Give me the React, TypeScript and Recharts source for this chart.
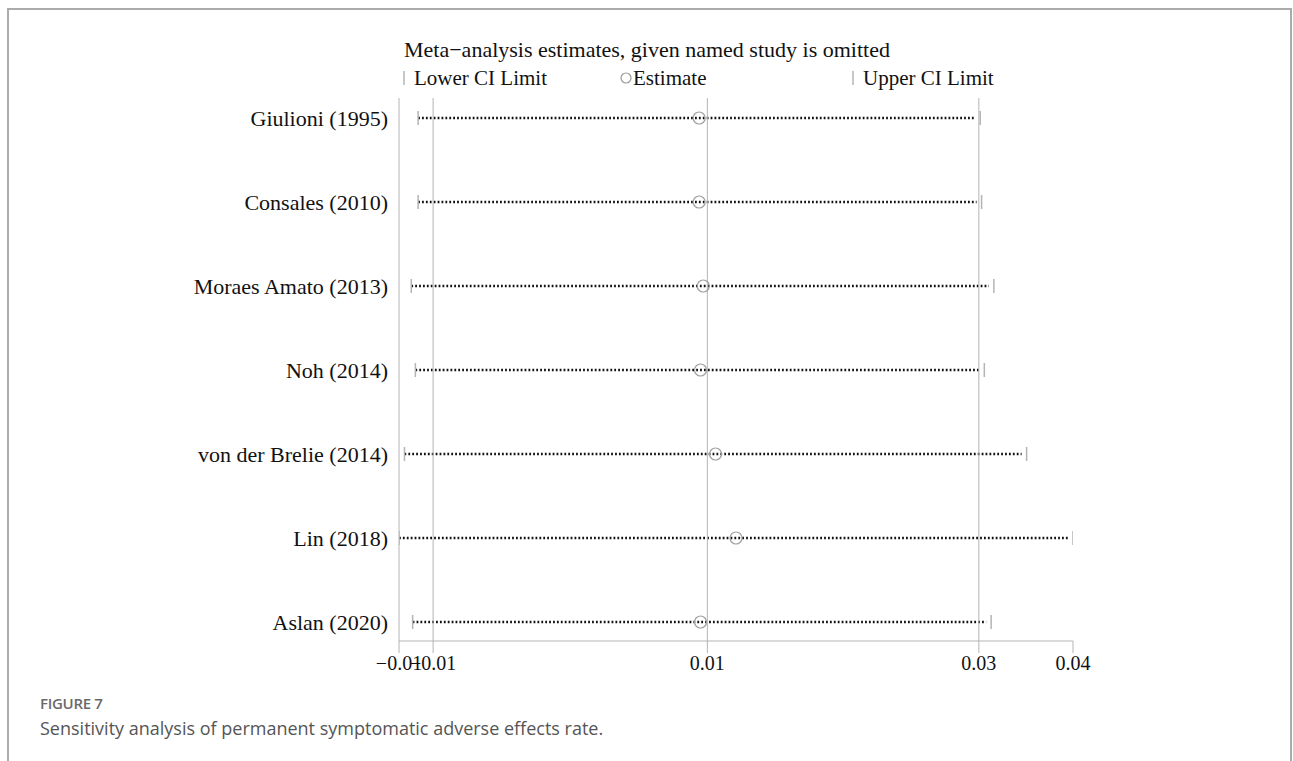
import { ComposedChart, Bar, Line, XAxis, YAxis, ReferenceLine } from 'recharts';

const studies = [
  'Giulioni (1995)',
  'Consales (2010)',
  'Moraes Amato (2013)',
  'Noh (2014)',
  'von der Brelie (2014)',
  'Lin (2018)',
  'Aslan (2020)',
];
const lowerCI = [-0.0112, -0.0112, -0.0117, -0.0114, -0.0122, -0.0126, -0.0116];
const estimate = [0.0094, 0.0094, 0.0097, 0.0095, 0.0106, 0.0121, 0.0095];
const upperCI = [0.0300, 0.0301, 0.0310, 0.0303, 0.0334, 0.0368, 0.0308];

// axis ticks sit at min lower, pooled CI / estimate, max upper (labels rounded as in the figure)
const xTicks = [-0.0126, -0.0101, 0.01, 0.0299, 0.0368];
const xTickLabels = ['−0.01', '−0.01', '0.01', '0.03', '0.04'];
const gridAt = [-0.0101, 0.01, 0.0299];

const data = studies.map((name, i) => ({
  idx: i,
  name,
  ci: [lowerCI[i], upperCI[i]],
  est: estimate[i],
}));

const serif = '"Liberation Serif", "Times New Roman", serif';
const gray = '#b4b4b4';

const CiShape = (props: any) => {
  const { x, y, width, height } = props;
  const cy = y + height / 2;
  return (
    <g>
      <line x1={x} y1={cy} x2={x + width - 5} y2={cy} stroke="#111" strokeWidth={2.5} strokeDasharray="1.8 2.1" />
      <line x1={x} y1={cy - 7} x2={x} y2={cy + 7} stroke={gray} strokeWidth={1.5} />
      <line x1={x + width} y1={cy - 7} x2={x + width} y2={cy + 7} stroke={gray} strokeWidth={1.5} />
    </g>
  );
};

const EstDot = (props: any) => {
  const { cx, cy } = props;
  return <circle cx={cx} cy={cy} r={6} fill="none" stroke="#a0a0a0" strokeWidth={1.2} />;
};

const App = () => {
  return (
    <div style={{ position: 'absolute', left: 0, top: 0, width: 1293, height: 761, background: '#fff', overflow: 'hidden' }}>
      <div
        style={{
          position: 'absolute',
          left: 7,
          top: 8,
          width: 1281,
          height: 800,
          borderTop: '2px solid #ababab',
          borderLeft: '2px solid #ababab',
          borderRight: '2px solid #ababab',
        }}
      />
      <svg width={1293} height={100} style={{ position: 'absolute', left: 0, top: 0 }}>
        <text x={404} y={57} fontFamily={serif} fontSize={22} fill="#111">
          Meta−analysis estimates, given named study is omitted
        </text>
        <line x1={404} y1={71} x2={404} y2={85} stroke={gray} strokeWidth={1.5} />
        <text x={414} y={85} fontFamily={serif} fontSize={21} fill="#111">Lower CI Limit</text>
        <circle cx={626} cy={78} r={5} fill="none" stroke="#9a9a9a" strokeWidth={1.2} />
        <text x={633} y={85} fontFamily={serif} fontSize={21} fill="#111">Estimate</text>
        <line x1={853} y1={71} x2={853} y2={85} stroke={gray} strokeWidth={1.5} />
        <text x={863} y={85} fontFamily={serif} fontSize={21} fill="#111">Upper CI Limit</text>
      </svg>
      <div style={{ position: 'absolute', left: 0, top: 0 }}>
        <ComposedChart
          width={1293}
          height={700}
          data={data}
          layout="vertical"
          margin={{ top: 98, right: 220, left: 0, bottom: 19 }}
        >
          <XAxis
            type="number"
            domain={[xTicks[0], xTicks[xTicks.length - 1]]}
            ticks={xTicks}
            interval={0}
            allowDataOverflow
            height={40}
            tickFormatter={(v: number) => xTickLabels[xTicks.indexOf(v)] ?? ''}
            stroke={gray}
            tickSize={12}
            tickMargin={3}
            tick={{ fill: '#111', fontFamily: serif, fontSize: 20 }}
          />
          <YAxis
            type="number"
            dataKey="idx"
            domain={[-0.238, 6.226]}
            allowDataOverflow
            ticks={studies.map((_, i) => i)}
            interval={0}
            tickFormatter={(v: number) => studies[v] ?? ''}
            width={399}
            stroke={gray}
            tickLine={false}
            tickSize={0}
            tickMargin={11}
            tick={{ fill: '#111', fontFamily: serif, fontSize: 22 }}
          />
          {gridAt.map((g) => (
            <ReferenceLine key={g} x={g} stroke={gray} strokeWidth={1} />
          ))}
          <Bar dataKey="ci" barSize={14} shape={<CiShape />} isAnimationActive={false} />
          <Line dataKey="est" stroke="none" dot={<EstDot />} activeDot={false} isAnimationActive={false} />
        </ComposedChart>
      </div>
      <div
        style={{
          position: 'absolute',
          left: 40,
          top: 693,
          fontFamily: '"Open Sans", sans-serif',
          fontWeight: 600,
          fontSize: 15,
          color: '#6a6a6a',
          letterSpacing: -0.3,
        }}
      >
        FIGURE 7
      </div>
      <div
        style={{
          position: 'absolute',
          left: 40,
          top: 716,
          fontFamily: '"Open Sans", sans-serif',
          fontSize: 18,
          color: '#555',
        }}
      >
        Sensitivity analysis of permanent symptomatic adverse effects rate.
      </div>
    </div>
  );
};

export default App;
